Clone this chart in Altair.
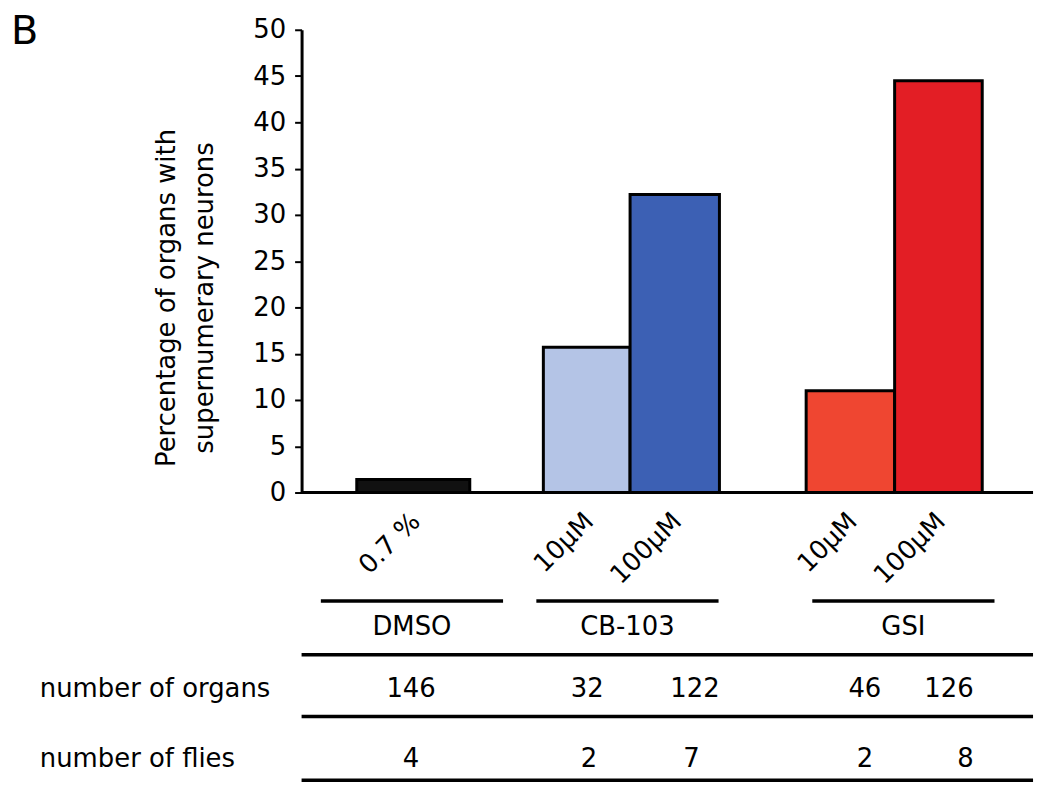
import altair as alt
import pandas as pd

# ---------------- data ----------------
groups = ["DMSO", "CB-103", "CB-103", "GSI", "GSI"]
doses = ["0.7 %", "10µM", "100µM", "10µM", "100µM"]
percent = [1.4, 15.7, 32.2, 11.0, 44.5]
n_organs = [146, 32, 122, 46, 126]
n_flies = [4, 2, 7, 2, 8]
group_names = ["DMSO", "CB-103", "GSI"]
row_labels = ["number of organs", "number of flies"]
y_ticks = [0, 5, 10, 15, 20, 25, 30, 35, 40, 45, 50]
y_title = ["Percentage of organs with", "supernumerary neurons"]
panel_letter = "B"

# ---------------- styles ----------------
bar_colors = ["#111111", "#b4c4e6", "#3c60b4", "#ef4631", "#e31e25"]
FONT = "DejaVu Sans"
FS = 26

# ---------------- layout (x in bar-width units) ----------------
X_MAX = 8.35
W, H = 735, 465
bar_lo = [0.63, 2.76, 3.75, 5.76, 6.77]
bar_hi = [1.92, 3.75, 4.77, 6.77, 7.77]
organs_x = [1.25, 3.26, 4.49, 6.43, 7.39]
flies_x = [1.25, 3.28, 4.45, 6.43, 7.58]
group_center = [1.26, 3.72, 6.87]
group_half = 1.04
label_shift = 0.03

ids = [f"{g} {d}" for g, d in zip(groups, doses)]
bars_df = pd.DataFrame({
    "id": ids, "group": groups, "dose": doses, "pct": percent,
    "lo": bar_lo, "hi": bar_hi,
    "lab_x": [(a + b) / 2 + label_shift for a, b in zip(bar_lo, bar_hi)],
    "organs": [str(v) for v in n_organs], "flies": [str(v) for v in n_flies],
    "ox": organs_x, "fx": flies_x,
})
grp_df = pd.DataFrame({
    "name": group_names,
    "c": group_center,
    "lo": [c - group_half for c in group_center],
    "hi": [c + group_half for c in group_center],
})
one = pd.DataFrame({"k": [0]})

xs = alt.Scale(domain=[0, X_MAX], nice=False, zero=False)
ys = alt.Scale(domain=[0, 50], nice=False)

bars = alt.Chart(bars_df).mark_rect(stroke="black", strokeWidth=3, strokeJoin="miter").encode(
    x=alt.X("lo:Q", scale=xs, axis=None),
    x2="hi:Q",
    y=alt.Y("pct:Q", scale=ys, axis=alt.Axis(
        values=y_ticks, title=y_title, grid=False,
        titleFont=FONT, titleFontSize=FS, titleFontWeight="normal", titleColor="black",
        titleAngle=270, titleX=-136, titleY=269, titleAlign="center",
        titleBaseline="middle", titleLineHeight=39,
        labelFont=FONT, labelFontSize=FS, labelColor="black", labelPadding=9,
        tickSize=7, tickWidth=2, tickColor="black",
        domainColor="black", domainWidth=3)),
    y2=alt.datum(0),
    color=alt.Color("id:N", scale=alt.Scale(domain=ids, range=bar_colors), legend=None),
)

baseline = alt.Chart(one).mark_rule(color="black", strokeWidth=3).encode(
    y=alt.datum(0), x=alt.value(0), x2=alt.value(W)
)

dose_labels = alt.Chart(bars_df).mark_text(
    angle=315, align="right", baseline="middle", font=FONT, fontSize=FS, color="black"
).encode(x=alt.X("lab_x:Q", scale=xs), y=alt.value(490), text="dose:N")

grp_lines = alt.Chart(grp_df).mark_rule(color="black", strokeWidth=3.5).encode(
    x=alt.X("lo:Q", scale=xs), x2="hi:Q", y=alt.value(574)
)
grp_text = alt.Chart(grp_df).mark_text(
    align="center", baseline="middle", font=FONT, fontSize=FS, color="black"
).encode(x=alt.X("c:Q", scale=xs), y=alt.value(600), text="name:N")

table_lines = [
    alt.Chart(one).mark_rule(color="black", strokeWidth=3.5).encode(
        x=alt.value(0), x2=alt.value(W), y=alt.value(yy))
    for yy in (628, 690, 754)
]

organs_text = alt.Chart(bars_df).mark_text(
    align="center", baseline="middle", font=FONT, fontSize=FS, color="black"
).encode(x=alt.X("ox:Q", scale=xs), y=alt.value(662), text="organs:N")
flies_text = alt.Chart(bars_df).mark_text(
    align="center", baseline="middle", font=FONT, fontSize=FS, color="black"
).encode(x=alt.X("fx:Q", scale=xs), y=alt.value(733), text="flies:N")

row_text = [
    alt.Chart(pd.DataFrame({"t": [lab]})).mark_text(
        align="left", baseline="middle", font=FONT, fontSize=FS, color="black"
    ).encode(x=alt.value(-263), y=alt.value(yy), text="t:N")
    for lab, yy in zip(row_labels, (662, 733))
]

letter = alt.Chart(pd.DataFrame({"t": [panel_letter]})).mark_text(
    align="left", baseline="top", font=FONT, fontSize=40, color="black"
).encode(x=alt.value(-292), y=alt.value(-18), text="t:N")

chart = alt.layer(
    bars, baseline, dose_labels, grp_lines, grp_text, *table_lines,
    organs_text, flies_text, *row_text, letter
).properties(
    width=W, height=H,
    padding={"left": 295, "top": 20, "right": 8, "bottom": 290},
    autosize=alt.AutoSizeParams(type="none"),
    background="white",
).configure_view(stroke=None, strokeWidth=0)

chart.save("out.html", embed_options={"renderer": "svg", "actions": False})
